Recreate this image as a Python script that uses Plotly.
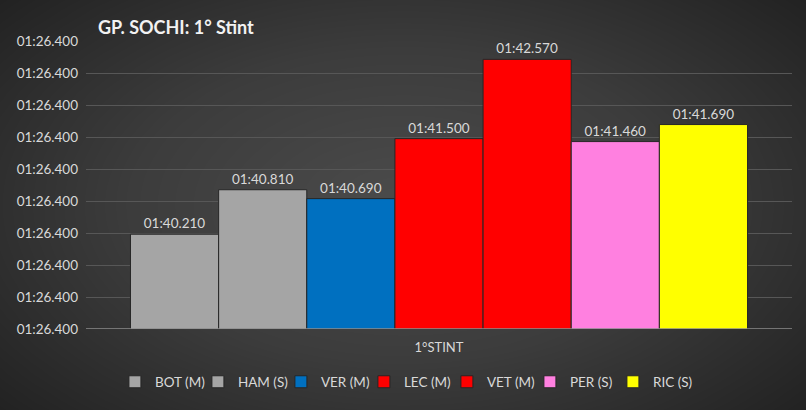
import numpy as np
import plotly.graph_objects as go

# lap data (average lap time of 1st stint, seconds)
drivers = ['BOT (M)', 'HAM (S)', 'VER (M)', 'LEC (M)', 'VET (M)', 'PER (S)', 'RIC (S)']
lap_times = [100.21, 100.81, 100.69, 101.50, 102.57, 101.46, 101.69]
colors = ['#A5A5A5', '#A5A5A5', '#0070C0', '#FF0000', '#FF0000', '#FF80E0', '#FFFF00']
category = ['1°STINT']

# y axis as in the original sheet (every tick shows the same label)
y_min = 98.93
y_step = 0.432
n_ticks = 10
tick_labels = ['01:26.400'] * n_ticks


def fmt_lap(sec):
    m = int(sec // 60)
    return f'{m:02d}:{sec - 60 * m:06.3f}'


fig = go.Figure()

# dark radial background (decoration only)
gx = np.linspace(-1, 1, 160)
gy = np.linspace(-1, 1, 80)
XX, YY = np.meshgrid(gx, gy)
shade = np.sqrt((XX * 0.9) ** 2 + (YY * 0.8) ** 2)
fig.add_trace(go.Heatmap(z=shade, x=gx, y=gy, showscale=False, hoverinfo='skip',
                         colorscale=[[0, '#4b4b4b'], [0.5, '#3c3c3c'], [1, '#222222']],
                         zsmooth='best', xaxis='x', yaxis='y', showlegend=False))

for name, t, c in zip(drivers, lap_times, colors):
    fig.add_trace(go.Bar(x=category, y=[t], name=name, marker_color=c,
                         marker_line=dict(color='#262626', width=1),
                         text=[fmt_lap(t)], textposition='outside',
                         textfont=dict(color='#D9D9D9', size=13.5),
                         xaxis='x2', yaxis='y2', cliponaxis=False))

tick_vals = [y_min + i * y_step for i in range(n_ticks)]

fig.update_layout(
    width=806, height=410,
    margin=dict(l=0, r=0, t=0, b=0, autoexpand=False),
    paper_bgcolor='#333333',
    plot_bgcolor='rgba(0,0,0,0)',
    font=dict(family='Lato', color='#D9D9D9', size=13),
    barmode='group', bargap=0.126, bargroupgap=0,
    xaxis=dict(domain=[0, 1], range=[-1, 1], visible=False, fixedrange=True,
               automargin=False),
    yaxis=dict(domain=[0, 1], range=[-1, 1], visible=False, fixedrange=True,
               automargin=False),
    xaxis2=dict(domain=[86 / 806, 792 / 806], anchor='y2', showgrid=False,
                showline=False, ticks='', automargin=False, ticklabelstandoff=9,
                tickfont=dict(size=13, color='#D9D9D9')),
    yaxis2=dict(domain=[81 / 410, 369 / 410], anchor='x2',
                range=[y_min, y_min + (n_ticks - 1) * y_step],
                tickvals=tick_vals, ticktext=tick_labels,
                showgrid=True, gridcolor='#575757', gridwidth=1,
                zeroline=False, showline=False, ticks='', automargin=False,
                ticklabelstandoff=7,
                tickfont=dict(size=13.5, color='#D9D9D9')),
    showlegend=True,
    legend=dict(orientation='h', x=0.503, xanchor='center', y=28 / 410, yanchor='middle',
                font=dict(size=13.5, color='#D9D9D9'), bgcolor='rgba(0,0,0,0)',
                traceorder='normal', itemwidth=30, entrywidth=38),
    annotations=[dict(text='<b>GP. SOCHI: 1° Stint</b>', xref='paper', yref='paper',
                      x=96 / 806, y=(410 - 27) / 410, xanchor='left', yanchor='middle',
                      showarrow=False, font=dict(size=18, color='#F2F2F2'))],
)

# axis base line
fig.add_shape(type='line', xref='x2 domain', yref='y2', x0=0, x1=1,
              y0=y_min, y1=y_min, line=dict(color='#8C8C8C', width=1.5))

fig.write_html('out.html', config={'displayModeBar': False},
               post_script="document.body.style.margin='0';")
